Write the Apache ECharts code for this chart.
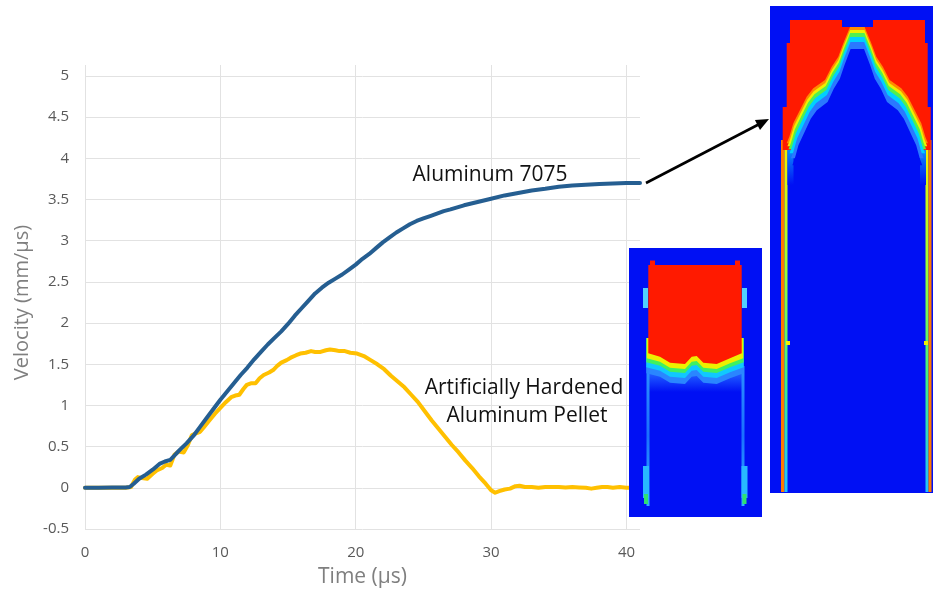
<!DOCTYPE html>
<html>
<head>
<meta charset="utf-8">
<script src="https://cdn.jsdelivr.net/npm/echarts@6/dist/echarts.min.js"></script>
<style>
html,body{margin:0;padding:0;background:#fff;}
#chart{width:933px;height:590px;}
</style>
</head>
<body>
<div id="chart"></div>
<script>
// ---- data ----
const timeAl = [0,1,2,3,3.3,3.6,4.0,4.5,5.0,5.5,5.9,6.3,6.6,7.0,7.5,8.0,8.5,9.0,9.5,10.0,10.5,11.0,11.5,12.0,12.5,13.0,13.5,14.0,14.5,15.0,15.5,16.0,16.5,17.0,17.5,18.0,18.5,19.0,19.5,20.0,20.5,21.0,21.5,22.0,22.5,23.0,23.5,24.0,24.5,25.0,25.5,26.0,26.5,27.0,28.0,29.0,30.0,31.0,32.0,33.0,34.0,35.0,36.0,37.0,38.0,39.0,40.0,41.0];
const velAl  = [0,0,0.005,0.005,0.01,0.05,0.11,0.16,0.22,0.29,0.32,0.34,0.39,0.46,0.54,0.63,0.74,0.85,0.96,1.07,1.17,1.27,1.37,1.46,1.56,1.65,1.74,1.82,1.90,1.99,2.09,2.18,2.27,2.36,2.43,2.49,2.54,2.59,2.65,2.71,2.78,2.84,2.91,2.98,3.04,3.10,3.15,3.20,3.24,3.27,3.30,3.33,3.36,3.38,3.43,3.47,3.51,3.55,3.58,3.61,3.63,3.655,3.67,3.68,3.69,3.695,3.70,3.70];

const timePellet = [0,1,2,3,3.4,3.7,3.9,4.2,4.6,5.0,5.3,5.7,6.0,6.3,6.6,6.9,7.3,7.6,7.9,8.2,8.5,8.8,9.2,9.6,10.0,10.4,10.8,11.1,11.4,11.7,11.95,12.3,12.6,12.9,13.2,13.6,13.9,14.2,14.5,14.9,15.2,15.6,15.9,16.3,16.7,17.0,17.4,17.8,18.1,18.5,18.8,19.2,19.6,20.1,20.6,21.1,21.6,22.1,22.6,23.1,23.6,24.1,24.6,25.1,25.6,26.1,26.6,27.1,27.6,28.1,28.6,29.1,29.6,30.0,30.3,30.6,31.0,31.4,31.8,32.1,32.5,33.0,33.5,34.0,34.5,35.0,35.5,36.0,36.5,37.0,37.4,37.8,38.2,38.6,39.0,39.5,40.0,40.5,41.0];
const velPellet  = [0,0,0,0,0.01,0.10,0.13,0.12,0.11,0.17,0.21,0.24,0.28,0.27,0.40,0.44,0.43,0.52,0.64,0.66,0.68,0.74,0.82,0.90,0.97,1.04,1.10,1.12,1.13,1.20,1.25,1.27,1.27,1.33,1.37,1.40,1.43,1.48,1.52,1.55,1.58,1.61,1.63,1.64,1.66,1.65,1.65,1.67,1.68,1.67,1.66,1.66,1.64,1.63,1.60,1.55,1.50,1.44,1.36,1.29,1.22,1.13,1.04,0.93,0.82,0.72,0.62,0.52,0.43,0.33,0.24,0.14,0.05,-0.03,-0.06,-0.04,-0.02,-0.01,0.02,0.025,0.01,0.01,0.0,0.01,0.01,0.01,0.005,0.01,0.005,0.0,-0.01,0.0,0.01,0.01,0.0,0.01,0.0,0.0,0.0];

const xTickValues = [0,10,20,30,40];
const seriesNames = ['Artificially Hardened Aluminum Pellet','Aluminum 7075'];
const labelAl = 'Aluminum 7075';
const labelPellet = ['Artificially Hardened','Aluminum Pellet'];
const xName = 'Time (µs)';
const yName = 'Velocity (mm/µs)';

// ---- inset artwork (simulation snapshots) ----
const BLUE = '#0010f4', RED = '#ff1a00';
const els = [];
const Z = 100;
function rect(x,y,w,h,fill){ els.push({type:'rect', z:Z, silent:true, shape:{x:x,y:y,width:w,height:h}, style:{fill:fill}}); }
function poly(pts,fill){ els.push({type:'polygon', z:Z, silent:true, shape:{points:pts}, style:{fill:fill}}); }
function vgrad(stops){ return new echarts.graphic.LinearGradient(0,0,0,1,stops.map((c,i)=>({offset:i/(stops.length-1),color:c}))); }

// small inset
rect(629,248,133,269,BLUE);
rect(648,362,94,30,vgrad(['#3a88ff','#1a50ff',BLUE]));
rect(646.5,366,3,140,vgrad(['#2a90ff','#1a70ff','#30b0ff']));
rect(741.5,366,3,140,vgrad(['#2a90ff','#1a70ff','#30b0ff']));
rect(643,466,6,32,'#28b8ff');
rect(741.5,466,6,32,'#28b8ff');
rect(644,494,4,10,'#30e070');
rect(742.5,494,4,10,'#30e070');
rect(643,288,5,20,'#50d0ff');
rect(742,288,5,20,'#50d0ff');
const redBottom = [[648.3,353.3],[660,356.7],[670,362.7],[685,364],[691.7,356.7],[696.7,356],[703.3,362.7],[716.7,364],[730,358.3],[741.7,353.3]];
[[20,2,'#2a86ff'],[14,2,'#10c8ff'],[9,2,'#40f060'],[5,1.5,'#eef000'],[0,0,RED]].forEach(([dy,dx,c])=>{
  const top = dy===0 ? 265 : 338;
  const pts=[[648.3-dx,top],[741.7+dx,top]];
  for(let i=redBottom.length-1;i>=0;i--){
    let x=redBottom[i][0]; if(i===0) x-=dx; if(i===redBottom.length-1) x+=dx;
    pts.push([x,redBottom[i][1]+dy]);
  }
  poly(pts,c);
});
rect(650,260.5,5,5,RED);
rect(735,260.5,5,5,RED);

// big inset
rect(770,6,163,487,BLUE);
rect(781,140,3.5,352,'#ff7a00');
rect(784.5,150,3,342,vgrad(['#f0f000','#a0ff30','#40f080','#20c0ff']));
rect(925.5,150,3,342,vgrad(['#f0f000','#a0ff30','#40f080','#20c0ff']));
rect(928.5,140,3,352,'#ff7a00');
rect(787.5,140,6,45,vgrad(['#10b0ff',BLUE]));
rect(920,140,6,45,vgrad(['#10b0ff',BLUE]));
rect(786,341,4,4,'#f0f000');
rect(924,341,4,4,'#f0f000');
poly([[790,20],[842,20],[842,27],[873,27],[873,20],[925,20],[925,43],[927.7,43],[927.7,107],[930.7,107],[930.7,150],[782.7,150],[782.7,107],[786.7,107],[786.7,43],[790,43]],RED);
const cx = 857.3;
const archLeft = [[786.7,143.3],[789.3,136.7],[793.3,123.3],[800,110],[806.7,96.7],[813.3,88.3],[825,80],[831.7,66.7],[838.3,56.7],[843.3,43.3],[850,27]];
const arch = archLeft.concat(archLeft.slice().reverse().map(p=>[2*cx-p[0],p[1]]));
[[0,1,'#ff8a00'],[3,0.99,'#eef000'],[6,0.975,'#50f050'],[10,0.96,'#00d0ff'],[15,0.94,'#2a78ff'],[22,0.92,BLUE]].forEach(([dy,s,c])=>{
  poly(arch.map(p=>[cx+(p[0]-cx)*s,p[1]+dy]),c);
});

// arrow
els.push({type:'line', z:Z, silent:true, shape:{x1:646,y1:183,x2:758.5,y2:124.5}, style:{stroke:'#000',lineWidth:2.6}});
poly([[769,119],[760.0,129.9],[754.9,120.1]],'#000');

// annotation texts
function text(x,y,t){ els.push({type:'text', z:Z, silent:true, x:x, y:y, style:{text:t, fontSize:21, fontFamily:'Open Sans', fill:'#111', align:'center', verticalAlign:'middle'}}); }
text(490,175,labelAl);
text(524,388,labelPellet[0]);
text(527,416.5,labelPellet[1]);

const chart = echarts.init(document.getElementById('chart'), null, {renderer:'canvas'});
const gridColor = '#e2e2e2';
chart.setOption({
  animation:false,
  backgroundColor:'#fff',
  grid:[
    {left:85, top:76, width:555, height:453, containLabel:false, outerBoundsMode:'none'},
    {left:85, top:65, width:555*40/41, height:464, containLabel:false, outerBoundsMode:'none'}
  ],
  xAxis:[
    {gridIndex:0, type:'value', min:0, max:41, interval:10,
     splitLine:{show:false}, axisLine:{show:false}, axisTick:{show:false},
     axisLabel:{margin:16, fontSize:15, color:'#595959', fontFamily:'Open Sans',
       formatter:v=>xTickValues.indexOf(v)>=0?String(v):''},
     name:xName, nameLocation:'middle', nameGap:38,
     nameTextStyle:{fontSize:21, color:'#7f7f7f', fontFamily:'Open Sans'}},
    {gridIndex:1, type:'value', min:0, max:40, interval:10,
     axisLine:{show:false}, axisTick:{show:false}, axisLabel:{show:false},
     splitLine:{show:true, lineStyle:{color:gridColor, width:1}}}
  ],
  yAxis:[
    {gridIndex:0, type:'value', min:-0.5, max:5, interval:0.5,
     axisLine:{show:false}, axisTick:{show:false},
     splitLine:{show:true, lineStyle:{color:gridColor, width:1}},
     axisLabel:{margin:16, fontSize:15, color:'#595959', fontFamily:'Open Sans'},
     name:yName, nameLocation:'middle', nameGap:52,
     nameTextStyle:{fontSize:20, color:'#7f7f7f', fontFamily:'Open Sans'}},
    {gridIndex:1, type:'value', min:0, max:1, show:false}
  ],
  series:[
    {name:seriesNames[0], type:'line', xAxisIndex:0, yAxisIndex:0, showSymbol:false, symbol:'none',
     data:timePellet.map((t,i)=>[t,velPellet[i]]),
     lineStyle:{color:'#ffc000', width:4, cap:'round', join:'round'}},
    {name:seriesNames[1], type:'line', xAxisIndex:0, yAxisIndex:0, showSymbol:false, symbol:'none',
     data:timeAl.map((t,i)=>[t,velAl[i]]),
     lineStyle:{color:'#255e91', width:4, cap:'round', join:'round'}}
  ],
  graphic:{elements:els}
});
</script>
</body>
</html>
